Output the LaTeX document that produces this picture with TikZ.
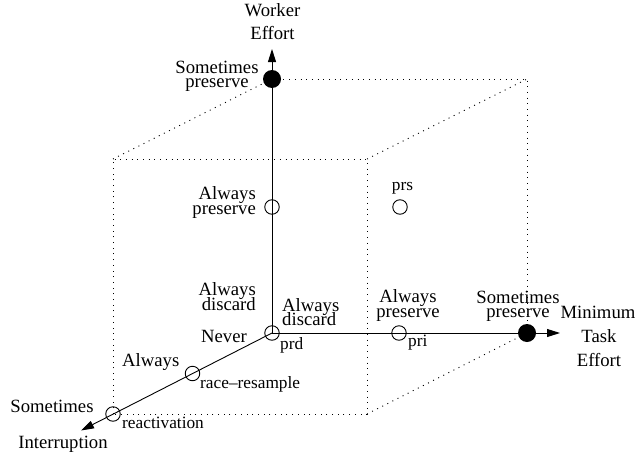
\documentclass[tikz,border=0pt]{standalone}
\usepackage{fontspec}
\setmainfont{Liberation Serif}
\usetikzlibrary{arrows.meta}
\begin{document}
\begin{tikzpicture}[x=1pt,y=-1pt,
  big/.style={font=\fontsize{18.7}{14}\selectfont, inner sep=0pt},
  small/.style={font=\fontsize{17.3}{14}\selectfont, inner sep=0pt},
  opendot/.style={circle, draw, line width=0.9pt, minimum size=14.5pt, inner sep=0pt},
  filldot/.style={circle, fill, minimum size=18pt, inner sep=0pt},
  axis/.style={line width=0.9pt, -{Triangle[length=13pt,width=8pt]}},
  edge/.style={line width=0.9pt, dash pattern=on 1pt off 4.7pt}]
\useasboundingbox (0,0) rectangle (636,460);

% points on the three axes and inside the cube
\node[opendot] (prd) at (272,333) {};
\node[opendot] (apw) at (272,207) {};
\node[filldot] (spw) at (272,79) {};
\node[opendot] (pri) at (399,333) {};
\node[filldot] (spt) at (527,333) {};
\node[opendot] (race) at (192.5,373.5) {};
\node[opendot] (react) at (113,414) {};
\node[opendot] (prs) at (400,207) {};

% cube corners not occupied by a point
\coordinate (bk) at (527,79);
\coordinate (ftl) at (113,159);
\coordinate (ftr) at (367,159);
\coordinate (fbr) at (367,414);

% arrow tips of the axes
\coordinate (wtip) at (272,49);
\coordinate (ttip) at (560,333);
\coordinate (itip) at (81,430.5);

% dotted cube
\draw[edge] (spw.center) -- (bk) -- (spt.center);
\draw[edge] (react.center) -- (ftl) -- (ftr) -- (fbr) -- (react.center);
\draw[edge] (ftl) -- (spw.center);
\draw[edge] (ftr) -- (bk);
\draw[edge] (fbr) -- (spt.center);

% axes
\draw[axis] (prd.center) -- (wtip);
\draw[axis] (prd.center) -- (ttip);
\draw[axis] (prd.center) -- (itip);

% axis titles
\node[big, anchor=base] (w1) at (272.5,17) {Worker};
\node[big, anchor=base] (w2) at (272.5,40) {Effort};
\node[big, anchor=base] (m1) at (598,318) {Minimum};
\node[big, anchor=base] (m2) at (599,342) {Task};
\node[big, anchor=base] (m3) at (599,366) {Effort};
\node[big, anchor=base] (i1) at (63,448) {Interruption};

% labels along the worker-effort axis
\node[big, anchor=base] (a1) at (217,73) {Sometimes};
\node[big, anchor=base] (a2) at (217,87) {preserve};
\node[big, anchor=base east] (b1) at (256,199) {Always};
\node[big, anchor=base east] (b2) at (256,214) {preserve};
\node[big, anchor=base east] (c1) at (256,295) {Always};
\node[big, anchor=base east] (c2) at (256,310) {discard};

% labels along the task-effort axis
\node[big, anchor=base west] (d1) at (282,311) {Always};
\node[big, anchor=base west] (d2) at (282,325.5) {discard};
\node[big, anchor=base] (e1) at (408,302) {Always};
\node[big, anchor=base] (e2) at (408,317) {preserve};
\node[big, anchor=base] (f1) at (518,303.5) {Sometimes};
\node[big, anchor=base] (f2) at (518,317.5) {preserve};

% labels along the interruption axis
\node[big, anchor=base east] (g1) at (247,342) {Never};
\node[big, anchor=base west] (g2) at (122,366) {Always};
\node[big, anchor=base] (g3) at (52,412) {Sometimes};

% point names
\node[small, anchor=base west] (n1) at (280,349) {prd};
\node[small, anchor=base west] (n2) at (408,346) {pri};
\node[small, anchor=base] (n3) at (402.5,190) {prs};
\node[small, anchor=base west] (n4) at (200,388) {race\textendash resample};
\node[small, anchor=base west] (n5) at (122,428) {reactivation};
\end{tikzpicture}
\end{document}
